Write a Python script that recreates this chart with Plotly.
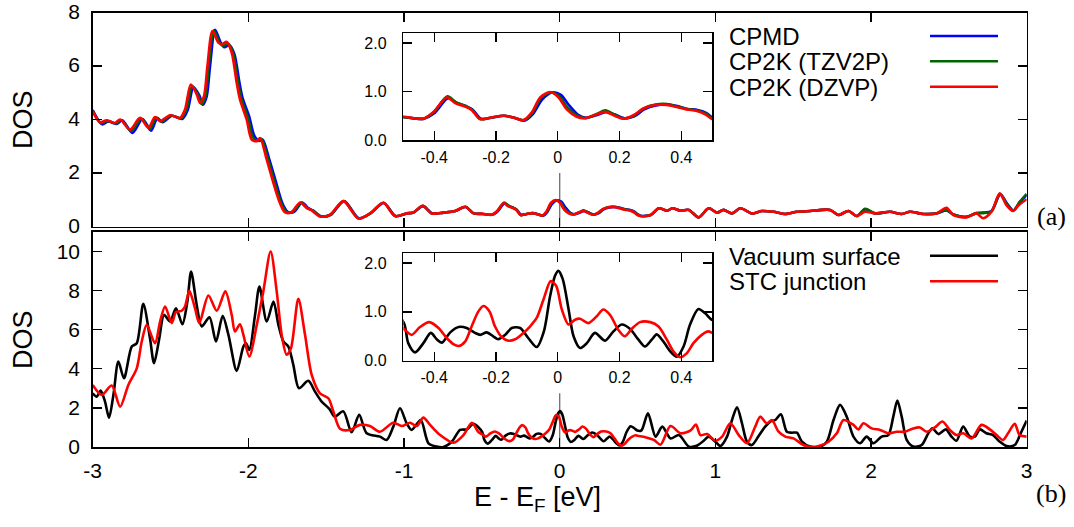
import plotly.graph_objects as go

# ---------------- data ----------------
# Panel (a)
cpmd_x = [-3.0, -2.94, -2.9, -2.845, -2.81, -2.745, -2.68, -2.625, -2.585, -2.55, -2.49, -2.425, -2.39,
          -2.353, -2.315, -2.292, -2.268, -2.246, -2.214, -2.176, -2.154, -2.122, -2.09, -2.058, -2.037,
          -1.994, -1.962, -1.929, -1.908, -1.865, -1.822, -1.78, -1.747, -1.705, -1.655, -1.615, -1.585,
          -1.532, -1.47, -1.385, -1.29, -1.215, -1.13, -1.055, -0.98, -0.94, -0.878, -0.82, -0.745, -0.67,
          -0.605, -0.552, -0.496, -0.433, -0.4, -0.355, -0.328, -0.297, -0.276, -0.249, -0.216, -0.173,
          -0.14, -0.108, -0.08, -0.05, -0.018, 0.01, 0.036, 0.066, 0.092, 0.13, 0.156, 0.183, 0.215, 0.248,
          0.28, 0.317, 0.355, 0.387, 0.42, 0.452, 0.48, 0.502, 0.52, 0.585, 0.638, 0.69, 0.724, 0.777,
          0.83, 0.893, 0.957, 1.01, 1.053, 1.107, 1.16, 1.235, 1.299, 1.374, 1.449, 1.524, 1.61, 1.737,
          1.79, 1.855, 1.908, 1.962, 2.026, 2.122, 2.197, 2.25, 2.335, 2.421, 2.485, 2.528, 2.613, 2.677,
          2.72, 2.774, 2.83, 2.875, 2.915, 2.955, 3.0]
cpmd_y = [4.35, 3.82, 3.93, 3.83, 3.97, 3.5, 4.02, 3.58, 4.05, 3.9, 4.14, 4.02, 4.35,
          5.2, 4.9, 4.55, 4.85, 6.0, 7.35, 6.85, 6.7, 6.78, 6.45, 5.4, 4.8,
          4.1, 3.4, 3.2, 3.25, 2.5, 1.65, 0.85, 0.55, 0.55, 0.9, 0.69, 0.6,
          0.38, 0.44, 0.95, 0.31, 0.49, 0.88, 0.39, 0.49, 0.52, 0.76, 0.49, 0.52, 0.58,
          0.73, 0.49, 0.47, 0.44, 0.55, 0.86, 0.77, 0.7, 0.63, 0.44, 0.46, 0.5,
          0.46, 0.4, 0.54, 0.84, 0.98, 0.93, 0.72, 0.52, 0.46, 0.52, 0.58, 0.53, 0.45, 0.49,
          0.63, 0.71, 0.73, 0.7, 0.64, 0.62, 0.56, 0.45, 0.4, 0.43, 0.68, 0.59, 0.68, 0.59,
          0.62, 0.34, 0.68, 0.52, 0.62, 0.49, 0.68, 0.49, 0.58, 0.55, 0.47, 0.55, 0.58, 0.62,
          0.43, 0.58, 0.39, 0.64, 0.49, 0.55, 0.47, 0.55, 0.47, 0.49, 0.6, 0.45, 0.36, 0.5,
          0.52, 0.58, 1.2, 0.85, 0.6, 0.9, 1.18]

tzv2p_x = [-3.0, -2.947, -2.905, -2.851, -2.817, -2.752, -2.688, -2.633, -2.592, -2.558, -2.496, -2.432,
           -2.398, -2.361, -2.323, -2.301, -2.276, -2.255, -2.222, -2.184, -2.162, -2.13, -2.098, -2.066,
           -2.045, -2.002, -1.97, -1.937, -1.916, -1.873, -1.83, -1.788, -1.755, -1.713, -1.66, -1.62,
           -1.589, -1.536, -1.472, -1.388, -1.292, -1.217, -1.132, -1.056, -0.982, -0.94, -0.879, -0.821,
           -0.746, -0.671, -0.606, -0.553, -0.497, -0.434, -0.402, -0.357, -0.33, -0.299, -0.278, -0.251,
           -0.218, -0.175, -0.142, -0.11, -0.082, -0.054, -0.022, 0.005, 0.032, 0.063, 0.09, 0.128, 0.154,
           0.181, 0.213, 0.246, 0.278, 0.316, 0.354, 0.386, 0.418, 0.451, 0.478, 0.5, 0.52, 0.584, 0.637,
           0.69, 0.723, 0.777, 0.83, 0.893, 0.957, 1.01, 1.053, 1.107, 1.16, 1.235, 1.299, 1.374, 1.449,
           1.524, 1.61, 1.737, 1.79, 1.855, 1.908, 1.962, 2.026, 2.122, 2.197, 2.25, 2.335, 2.421, 2.485,
           2.528, 2.613, 2.677, 2.72, 2.774, 2.828, 2.872, 2.913, 2.955, 3.0]
tzv2p_y = [4.32, 3.86, 3.95, 3.85, 3.98, 3.56, 4.04, 3.63, 4.07, 3.92, 4.15, 4.04, 4.36,
           5.25, 4.92, 4.58, 4.86, 6.0, 7.33, 6.86, 6.75, 6.84, 6.48, 5.38, 4.77,
           4.05, 3.33, 3.2, 3.28, 2.5, 1.63, 0.86, 0.54, 0.55, 0.9, 0.69, 0.6,
           0.38, 0.44, 0.95, 0.3, 0.49, 0.89, 0.39, 0.49, 0.52, 0.77, 0.49, 0.52, 0.58,
           0.74, 0.49, 0.47, 0.44, 0.57, 0.9, 0.78, 0.7, 0.63, 0.43, 0.46, 0.5,
           0.46, 0.41, 0.56, 0.87, 0.98, 0.9, 0.66, 0.5, 0.45, 0.54, 0.61, 0.53, 0.44, 0.5,
           0.65, 0.73, 0.74, 0.69, 0.64, 0.61, 0.55, 0.44, 0.39, 0.43, 0.68, 0.59, 0.68, 0.59,
           0.62, 0.34, 0.68, 0.52, 0.62, 0.49, 0.68, 0.49, 0.58, 0.55, 0.47, 0.55, 0.58, 0.62,
           0.43, 0.58, 0.39, 0.66, 0.49, 0.55, 0.47, 0.55, 0.47, 0.49, 0.62, 0.45, 0.36, 0.5,
           0.5, 0.56, 1.22, 0.84, 0.6, 0.92, 1.22]

dzvp_x = [-3.0, -2.953, -2.91, -2.857, -2.824, -2.76, -2.696, -2.642, -2.6, -2.567, -2.503, -2.439, -2.407,
          -2.37, -2.332, -2.31, -2.285, -2.263, -2.231, -2.193, -2.171, -2.139, -2.107, -2.075, -2.054,
          -2.011, -1.979, -1.946, -1.925, -1.882, -1.839, -1.797, -1.764, -1.722, -1.668, -1.625, -1.593,
          -1.54, -1.475, -1.39, -1.294, -1.219, -1.133, -1.058, -0.983, -0.94, -0.88, -0.822, -0.747, -0.672,
          -0.607, -0.554, -0.498, -0.435, -0.403, -0.359, -0.332, -0.3, -0.279, -0.252, -0.219, -0.176,
          -0.143, -0.111, -0.084, -0.057, -0.025, 0.002, 0.029, 0.061, 0.088, 0.126, 0.153, 0.18, 0.212,
          0.245, 0.277, 0.315, 0.353, 0.385, 0.417, 0.45, 0.477, 0.5, 0.519, 0.584, 0.637, 0.69, 0.723,
          0.777, 0.83, 0.893, 0.957, 1.01, 1.053, 1.107, 1.16, 1.235, 1.299, 1.374, 1.449, 1.524, 1.61,
          1.737, 1.79, 1.855, 1.908, 1.962, 2.026, 2.122, 2.197, 2.25, 2.335, 2.421, 2.485, 2.528, 2.613,
          2.677, 2.72, 2.774, 2.827, 2.87, 2.912, 2.95, 3.0]
dzvp_y = [4.31, 3.9, 3.97, 3.87, 4.0, 3.62, 4.06, 3.69, 4.09, 3.94, 4.16, 4.06, 4.375,
          5.31, 4.94, 4.62, 4.87, 6.0, 7.31, 6.875, 6.81, 6.9, 6.5, 5.375, 4.75,
          4.0, 3.25, 3.19, 3.31, 2.5, 1.625, 0.875, 0.525, 0.54, 0.9, 0.69, 0.6,
          0.375, 0.44, 0.95, 0.3, 0.49, 0.89, 0.39, 0.49, 0.52, 0.77, 0.49, 0.52, 0.58,
          0.74, 0.49, 0.48, 0.44, 0.57, 0.88, 0.76, 0.69, 0.62, 0.43, 0.46, 0.5,
          0.46, 0.41, 0.57, 0.88, 0.99, 0.88, 0.63, 0.48, 0.45, 0.53, 0.58, 0.51, 0.44,
          0.51, 0.65, 0.72, 0.72, 0.68, 0.63, 0.6, 0.53, 0.43, 0.39, 0.43, 0.68, 0.59, 0.68,
          0.59, 0.62, 0.34, 0.68, 0.52, 0.62, 0.49, 0.68, 0.49, 0.58, 0.55, 0.47, 0.55, 0.58,
          0.62, 0.43, 0.58, 0.39, 0.55, 0.49, 0.55, 0.47, 0.55, 0.47, 0.49, 0.7, 0.43, 0.34,
          0.49, 0.31, 0.55, 1.24, 0.8, 0.58, 0.8, 1.02]

# Panel (b)
vac_x = [-3.0, -2.974, -2.949, -2.921, -2.895, -2.867, -2.835, -2.799, -2.749, -2.717, -2.675, -2.632,
         -2.606, -2.572, -2.542, -2.503, -2.465, -2.424, -2.392, -2.368, -2.332, -2.3, -2.25, -2.208,
         -2.165, -2.128, -2.075, -2.032, -2.015, -1.994, -1.957, -1.929, -1.882, -1.839, -1.807, -1.775,
         -1.743, -1.711, -1.675, -1.615, -1.572, -1.529, -1.48, -1.445, -1.39, -1.337, -1.288, -1.24,
         -1.155, -1.112, -1.069, -1.026, -0.983, -0.951, -0.893, -0.843, -0.79, -0.747, -0.693, -0.64,
         -0.597, -0.554, -0.498, -0.484, -0.462, -0.435, -0.411, -0.392, -0.375, -0.348, -0.321, -0.295,
         -0.268, -0.251, -0.23, -0.209, -0.193, -0.17, -0.149, -0.122, -0.095, -0.068, -0.045, -0.025,
         -0.009, 0.002, 0.016, 0.035, 0.051, 0.072, 0.094, 0.12, 0.153, 0.18, 0.207, 0.234, 0.261, 0.282,
         0.304, 0.32, 0.342, 0.364, 0.385, 0.407, 0.428, 0.455, 0.477, 0.498, 0.525, 0.567, 0.616, 0.659,
         0.712, 0.766, 0.83, 0.884, 0.925, 0.957, 1.0, 1.032, 1.075, 1.107, 1.139, 1.171, 1.203, 1.235,
         1.278, 1.32, 1.353, 1.385, 1.421, 1.459, 1.491, 1.524, 1.556, 1.609, 1.673, 1.716, 1.759, 1.801,
         1.844, 1.887, 1.929, 1.972, 2.015, 2.068, 2.111, 2.143, 2.169, 2.197, 2.229, 2.271, 2.325, 2.368,
         2.395, 2.432, 2.481, 2.517, 2.549, 2.592, 2.635, 2.667, 2.699, 2.741, 2.784, 2.827, 2.87, 2.923,
         2.966, 3.0]
vac_y = [2.74, 2.57, 2.88, 2.32, 1.5, 2.66, 4.36, 3.51, 5.13, 5.3, 7.31, 5.56,
         4.28, 5.56, 6.75, 6.41, 7.09, 6.27, 7.43, 8.97, 7.26, 6.16, 6.63, 5.39,
         6.7, 5.73, 3.89, 5.13, 5.3, 4.96, 6.75, 8.2, 6.41, 7.43, 6.24, 5.39,
         5.13, 4.19, 3.0, 3.38, 2.83, 2.32, 1.95, 1.55, 1.82, 0.75, 1.64, 0.7,
         0.53, 0.36, 1.04, 1.98, 1.21, 0.87, 1.38, 0.19, 0.02, 0.0, 0.27, 0.87,
         0.9, 1.18, 0.77, 0.36, 0.17, 0.36, 0.57, 0.44, 0.37, 0.58, 0.69, 0.67,
         0.57, 0.53, 0.58, 0.5, 0.44, 0.53, 0.67, 0.67, 0.46, 0.28, 0.6, 1.32,
         1.74, 1.84, 1.67, 1.05, 0.5, 0.26, 0.36, 0.57, 0.41, 0.6, 0.74, 0.65, 0.43, 0.29,
         0.43, 0.54, 0.39, 0.19, 0.08, 0.29, 0.74, 1.06, 0.97, 0.84, 0.85, 1.72, 0.53, 1.04,
         0.44, 0.61, 0.02, 0.08, 0.32, 0.53, 0.27, 0.05, 0.53, 1.38, 2.03, 1.21, 0.27, 0.1,
         0.56, 1.04, 1.3, 1.38, 1.67, 0.78, 0.73, 0.73, 0.27, 0.02, 0.02, 0.27, 1.38, 2.15,
         1.55, 0.53, 0.19, 0.53, 0.19, 0.53, 0.61, 1.55, 2.37, 1.55, 0.36, 0.02, 0.1, 0.7,
         0.95, 0.66, 0.9, 0.53, 0.32, 1.04, 0.53, 0.53, 0.9, 0.7, 0.61, 0.27, 0.05, 0.1,
         0.78, 1.35]

stc_x = [-3.0, -2.942, -2.878, -2.824, -2.771, -2.717, -2.685, -2.653, -2.6, -2.567, -2.535, -2.492,
         -2.465, -2.428, -2.407, -2.379, -2.343, -2.315, -2.257, -2.203, -2.148, -2.107, -2.086, -2.054,
         -2.032, -1.994, -1.946, -1.904, -1.857, -1.818, -1.786, -1.754, -1.726, -1.679, -1.636, -1.593,
         -1.54, -1.486, -1.454, -1.411, -1.348, -1.283, -1.219, -1.155, -1.069, -1.015, -0.961, -0.918,
         -0.876, -0.833, -0.768, -0.682, -0.618, -0.564, -0.521, -0.498, -0.473, -0.446, -0.416, -0.386,
         -0.359, -0.338, -0.321, -0.3, -0.279, -0.257, -0.241, -0.221, -0.203, -0.181, -0.16, -0.138,
         -0.111, -0.09, -0.068, -0.046, -0.023, -0.005, 0.013, 0.035, 0.056, 0.072, 0.099, 0.126, 0.147,
         0.169, 0.196, 0.217, 0.239, 0.266, 0.299, 0.326, 0.353, 0.374, 0.396, 0.417, 0.439, 0.466, 0.487,
         0.5, 0.55, 0.605, 0.648, 0.712, 0.777, 0.841, 0.875, 0.904, 0.947, 1.0, 1.043, 1.096, 1.15, 1.203,
         1.256, 1.288, 1.331, 1.363, 1.406, 1.449, 1.502, 1.566, 1.63, 1.684, 1.727, 1.78, 1.823, 1.887,
         1.919, 1.951, 2.004, 2.058, 2.111, 2.165, 2.218, 2.271, 2.314, 2.357, 2.41, 2.459, 2.506, 2.549,
         2.592, 2.646, 2.71, 2.763, 2.806, 2.848, 2.88, 2.923, 2.955, 3.0]
stc_y = [3.17, 2.66, 3.14, 2.06, 3.17, 4.02, 5.39, 6.24, 5.3, 6.41, 7.18, 6.33,
         6.89, 6.96, 7.18, 7.98, 7.09, 6.33, 7.74, 6.96, 7.95, 6.75, 5.9, 6.27,
         5.73, 4.62, 6.24, 7.95, 9.99, 7.95, 5.73, 4.71, 5.05, 7.57, 5.73, 3.68,
         2.74, 2.49, 1.81, 0.93, 0.87, 1.13, 1.07, 0.78, 1.24, 1.07, 1.24, 1.07,
         1.5, 1.13, 0.61, 0.22, 0.61, 1.24, 0.75, 0.65, 0.53, 0.69, 0.79, 0.67,
         0.46, 0.34, 0.3, 0.39, 0.7, 1.01, 1.12, 1.01, 0.7, 0.48, 0.41, 0.44,
         0.57, 0.7, 0.88, 1.26, 1.63, 1.53, 1.05, 0.74, 0.84, 0.86, 0.77, 0.91, 1.05,
         0.94, 0.63, 0.5, 0.65, 0.79, 0.79, 0.7, 0.43, 0.19, 0.07, 0.15, 0.36, 0.53, 0.6,
         0.57, 0.5, 0.36, 0.12, 1.07, 0.7, 0.85, 1.15, 0.61, 0.66, 0.32, 0.53, 1.21, 0.61, 0.19,
         1.04, 1.55, 1.21, 1.38, 0.78, 0.53, 0.44, 0.1, 0.0, 0.1, 0.27, 0.7, 1.38, 1.13,
         0.9, 1.21, 0.95, 0.87, 0.7, 0.78, 0.78, 0.95, 1.0, 0.78, 1.0, 1.3, 0.87, 0.61,
         0.7, 0.44, 1.13, 0.9, 0.61, 0.36, 0.7, 1.18, 0.61, 0.53]

# Fermi-level marker segments (x, y) drawn in the main panels
ef_top_x = [0, 0]
ef_top_y = [0, 2.0]
ef_bot_x = [0, 0]
ef_bot_y = [0, 2.75]

main_ticks = [-3, -2, -1, 0, 1, 2, 3]
main_ticktext = ["-3", "-2", "-1", "0", "1", "2", "3"]
top_yticks = [0, 2, 4, 6, 8]
bot_yticks = [0, 2, 4, 6, 8, 10]
inset_xticks = [-0.4, -0.2, 0, 0.2, 0.4]
inset_xticktext = ["-0.4", "-0.2", "0", "0.2", "0.4"]
inset_yticks = [0, 1, 2]
inset_yticktext = ["0.0", "1.0", "2.0"]

legend_a = ["CPMD", "CP2K (TZV2P)", "CP2K (DZVP)"]
legend_b = ["Vacuum surface", "STC junction"]

# ---------------- figure ----------------
W, H = 1074, 527
BLUE, GREEN, RED, BLACK = "#0000ff", "#006400", "#ff0000", "#000000"
LW = 2.6
FONT = "Liberation Sans, Arial, Helvetica, sans-serif"

fig = go.Figure()

def add_series(x, y, color, axes):
    for xa, ya in axes:
        fig.add_trace(go.Scatter(x=x, y=y, mode="lines", xaxis=xa, yaxis=ya,
                                 line=dict(color=color, width=LW, shape="spline", smoothing=0.8),
                                 showlegend=False, hoverinfo="skip"))

# grey E_F lines first (under curves)
fig.add_trace(go.Scatter(x=ef_top_x, y=ef_top_y, mode="lines", xaxis="x", yaxis="y",
                         line=dict(color="#6e6e6e", width=1.3), showlegend=False, hoverinfo="skip"))
fig.add_trace(go.Scatter(x=ef_bot_x, y=ef_bot_y, mode="lines", xaxis="x2", yaxis="y2",
                         line=dict(color="#6e6e6e", width=1.3), showlegend=False, hoverinfo="skip"))

add_series(cpmd_x, cpmd_y, BLUE, [("x", "y"), ("x3", "y3")])
add_series(tzv2p_x, tzv2p_y, GREEN, [("x", "y"), ("x3", "y3")])
add_series(dzvp_x, dzvp_y, RED, [("x", "y"), ("x3", "y3")])
add_series(vac_x, vac_y, BLACK, [("x2", "y2"), ("x4", "y4")])
add_series(stc_x, stc_y, RED, [("x2", "y2"), ("x4", "y4")])

def px2fx(px):
    return px / W

def py2fy(py):
    return 1 - py / H

main_xdom = [px2fx(92.7), px2fx(1026.7)]
top_ydom = [py2fy(226.5), py2fy(12.5)]
bot_ydom = [py2fy(447.0), py2fy(231.7)]
ins_xdom = [px2fx(403.3), px2fx(712.3)]
ins_top_ydom = [py2fy(140.0), py2fy(33.3)]
ins_bot_ydom = [py2fy(360.7), py2fy(253.3)]

axis_common = dict(showline=True, linecolor="black", linewidth=1.5, mirror="allticks",
                   ticks="inside", ticklen=9, tickwidth=1.3, tickcolor="black",
                   showgrid=False, zeroline=False, fixedrange=True, automargin=False,
                   ticklabeloverflow="allow")
tick_font = dict(family=FONT, size=21, color="black")
ins_font = dict(family=FONT, size=16, color="black")

fig.update_layout(
    template="none",
    width=W, height=H, margin=dict(l=0, r=0, t=0, b=0, pad=0, autoexpand=False),
    paper_bgcolor="white", plot_bgcolor="white", showlegend=False,
    xaxis=dict(domain=main_xdom, anchor="y", range=[-3, 3], tickvals=main_ticks,
               showticklabels=False, **axis_common),
    yaxis=dict(domain=top_ydom, anchor="x", range=[0, 8], tickvals=top_yticks,
               ticktext=[str(v) for v in top_yticks], tickfont=tick_font,
               ticklabelstandoff=7, ticklabelshift=-1, **axis_common),
    xaxis2=dict(domain=main_xdom, anchor="y2", range=[-3, 3], tickvals=main_ticks,
                ticktext=main_ticktext, tickfont=tick_font, ticklabelstandoff=4, **axis_common),
    yaxis2=dict(domain=bot_ydom, anchor="x2", range=[0, 11], tickvals=bot_yticks,
                ticktext=[str(v) for v in bot_yticks], tickfont=tick_font,
                ticklabelstandoff=7, **axis_common),
)

fig.update_layout(
    xaxis3=dict(domain=ins_xdom, anchor="y3", range=[-0.5, 0.5], tickvals=inset_xticks,
                ticktext=inset_xticktext, tickfont=ins_font, ticklabelstandoff=2, **axis_common),
    yaxis3=dict(domain=ins_top_ydom, anchor="x3", range=[0, 2.2], tickvals=inset_yticks,
                ticktext=inset_yticktext, tickfont=ins_font, ticklabelstandoff=12, **axis_common),
    xaxis4=dict(domain=ins_xdom, anchor="y4", range=[-0.5, 0.5], tickvals=inset_xticks,
                ticktext=inset_xticktext, tickfont=ins_font, ticklabelstandoff=2, **axis_common),
    yaxis4=dict(domain=ins_bot_ydom, anchor="x4", range=[0, 2.2], tickvals=inset_yticks,
                ticktext=inset_yticktext, tickfont=ins_font, ticklabelstandoff=12, **axis_common),
)

shapes = []
# grey E_F line across each inset
for xr, yr in (("x3", "y3 domain"), ("x4", "y4 domain")):
    shapes.append(dict(type="line", xref=xr, yref=yr, x0=0, x1=0, y0=0, y1=1,
                       line=dict(color="#6e6e6e", width=1.3), layer="below"))

# legend samples (paper coordinates)
leg_a_rows = [36.0, 61.2, 86.8]
leg_b_rows = [255.8, 281.3]
for yy, col in zip(leg_a_rows, [BLUE, GREEN, RED]):
    shapes.append(dict(type="line", xref="paper", yref="paper", x0=px2fx(930), x1=px2fx(998),
                       y0=py2fy(yy), y1=py2fy(yy), line=dict(color=col, width=LW)))
for yy, col in zip(leg_b_rows, [BLACK, RED]):
    shapes.append(dict(type="line", xref="paper", yref="paper", x0=px2fx(930), x1=px2fx(998),
                       y0=py2fy(yy), y1=py2fy(yy), line=dict(color=col, width=LW)))
fig.update_layout(shapes=shapes)

ann = []
leg_font = dict(family=FONT, size=24, color="black")
for txt, yy in zip(legend_a, leg_a_rows):
    ann.append(dict(text=txt, xref="paper", yref="paper", x=px2fx(727), y=py2fy(yy + 0.5),
                    xanchor="left", yanchor="middle", showarrow=False, font=leg_font))
for txt, yy in zip(legend_b, leg_b_rows):
    ann.append(dict(text=txt, xref="paper", yref="paper", x=px2fx(727), y=py2fy(yy + 0.5),
                    xanchor="left", yanchor="middle", showarrow=False, font=leg_font))

lab_font = dict(family=FONT, size=27, color="black")
ann.append(dict(text="DOS", xref="paper", yref="paper", x=px2fx(22.5), y=py2fy(119.5),
                textangle=-90, xanchor="center", yanchor="middle", showarrow=False, font=lab_font))
ann.append(dict(text="DOS", xref="paper", yref="paper", x=px2fx(22.5), y=py2fy(339.5),
                textangle=-90, xanchor="center", yanchor="middle", showarrow=False, font=lab_font))
ann.append(dict(text="E - E<sub>F</sub> [eV]", xref="paper", yref="paper", x=px2fx(537),
                y=py2fy(499), xanchor="center", yanchor="middle", showarrow=False, font=lab_font))

serif = dict(family="Liberation Serif, Times New Roman, serif", size=26, color="black")
ann.append(dict(text="(a)", xref="paper", yref="paper", x=px2fx(1051), y=py2fy(216),
                xanchor="center", yanchor="middle", showarrow=False, font=serif))
ann.append(dict(text="(b)", xref="paper", yref="paper", x=px2fx(1051), y=py2fy(493),
                xanchor="center", yanchor="middle", showarrow=False, font=serif))
fig.update_layout(annotations=ann)

# place the figure flush with the window corner (no default page margin), no modebar
fig.write_html("out.html",
               config={"displayModeBar": False, "staticPlot": True},
               post_script="document.body.style.margin='0';document.body.style.overflow='hidden';")
